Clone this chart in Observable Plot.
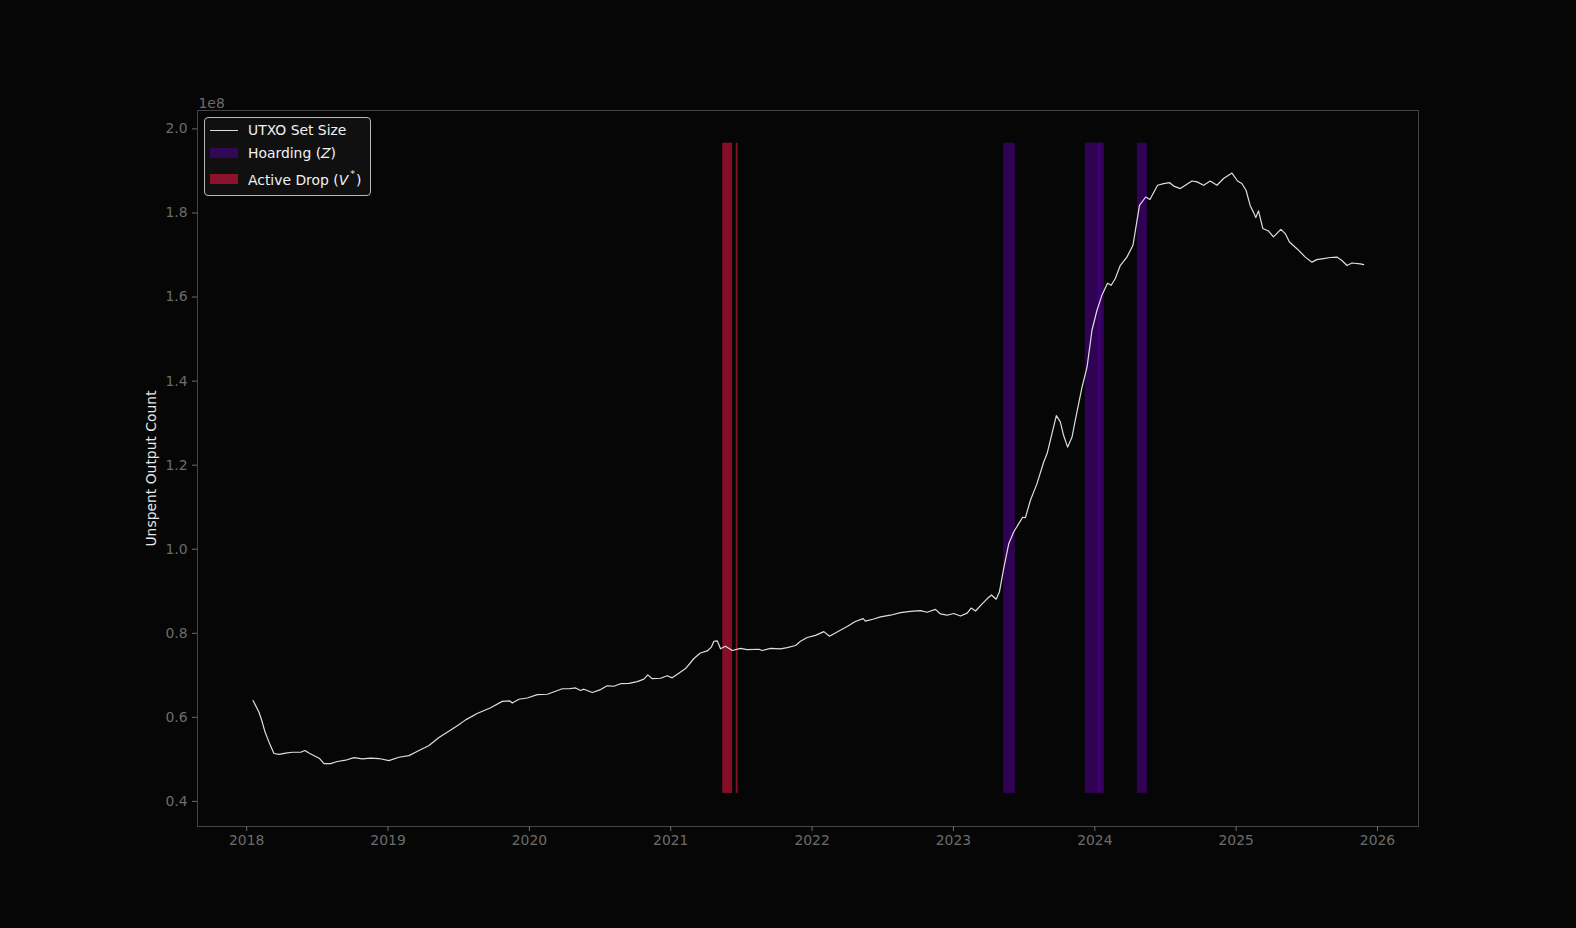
<!DOCTYPE html>
<html>
<head>
<meta charset="utf-8">
<script src="https://cdn.jsdelivr.net/npm/d3@7"></script>
<script src="https://cdn.jsdelivr.net/npm/@observablehq/plot@0.6"></script>
<style>
  html, body { margin: 0; padding: 0; background: #060606; }
  #wrap { position: relative; width: 1576px; height: 928px; }
  #legend {
    position: absolute; left: 204px; top: 117px; width: 165px; height: 77px;
    background: #101010; border: 1px solid #b8b8b8; border-radius: 4px;
    font-family: "DejaVu Sans", sans-serif; font-size: 13.9px; color: #f2f2f2;
  }
  .item { position: absolute; left: 0; height: 20px; display: flex; align-items: center; }
  .sw { position: absolute; left: 5px; width: 28px; }
  .lbl { position: absolute; left: 43px; white-space: nowrap; }
</style>
</head>
<body>
<div id="wrap"></div>
<script>
// UTXO set size (units of 1e8)
const years = [
  2018.045, 2018.087, 2018.106, 2018.130, 2018.158, 2018.193, 2018.229, 2018.276, 2018.323, 2018.382,
  2018.412, 2018.440, 2018.488, 2018.516, 2018.547, 2018.594, 2018.641, 2018.700, 2018.759, 2018.818,
  2018.877, 2018.936, 2019.006, 2019.077, 2019.148, 2019.219, 2019.290, 2019.360, 2019.430, 2019.490,
  2019.549, 2019.630, 2019.726, 2019.808, 2019.862, 2019.879, 2019.926, 2019.985, 2020.056, 2020.127,
  2020.185, 2020.233, 2020.280, 2020.327, 2020.362, 2020.386, 2020.445, 2020.504, 2020.550, 2020.598,
  2020.645, 2020.704, 2020.763, 2020.810, 2020.838, 2020.869, 2020.928, 2020.975, 2021.010, 2021.057,
  2021.105, 2021.164, 2021.210, 2021.258, 2021.287, 2021.305, 2021.329, 2021.352, 2021.387, 2021.435,
  2021.494, 2021.540, 2021.624, 2021.647, 2021.706, 2021.777, 2021.824, 2021.883, 2021.918, 2021.965,
  2022.024, 2022.083, 2022.123, 2022.177, 2022.248, 2022.306, 2022.361, 2022.377, 2022.436, 2022.484,
  2022.554, 2022.625, 2022.696, 2022.767, 2022.814, 2022.873, 2022.908, 2022.955, 2023.002, 2023.050,
  2023.097, 2023.125, 2023.156, 2023.203, 2023.238, 2023.269, 2023.302, 2023.325, 2023.356, 2023.391,
  2023.426, 2023.462, 2023.490, 2023.509, 2023.544, 2023.591, 2023.638, 2023.662, 2023.697, 2023.728,
  2023.756, 2023.779, 2023.808, 2023.839, 2023.862, 2023.910, 2023.945, 2023.980, 2024.015, 2024.050,
  2024.090, 2024.116, 2024.145, 2024.180, 2024.227, 2024.270, 2024.316, 2024.360, 2024.390, 2024.444,
  2024.487, 2024.530, 2024.558, 2024.605, 2024.687, 2024.723, 2024.770, 2024.817, 2024.864, 2024.911,
  2024.946, 2024.970, 2025.010, 2025.040, 2025.070, 2025.099, 2025.122, 2025.139, 2025.158, 2025.189,
  2025.229, 2025.264, 2025.316, 2025.347, 2025.377, 2025.430, 2025.489, 2025.536, 2025.571, 2025.607,
  2025.666, 2025.713, 2025.748, 2025.784, 2025.819, 2025.878, 2025.902
];
const utxo = [
  0.640, 0.612, 0.593, 0.565, 0.541, 0.514, 0.512, 0.515, 0.517, 0.517,
  0.521, 0.515, 0.507, 0.502, 0.490, 0.490, 0.495, 0.498, 0.504, 0.501,
  0.503, 0.502, 0.497, 0.505, 0.509, 0.521, 0.533, 0.552, 0.567, 0.580,
  0.594, 0.609, 0.623, 0.638, 0.639, 0.634, 0.643, 0.646, 0.654, 0.655,
  0.662, 0.668, 0.668, 0.670, 0.664, 0.667, 0.659, 0.666, 0.675, 0.674,
  0.680, 0.681, 0.685, 0.691, 0.701, 0.692, 0.693, 0.699, 0.694, 0.705,
  0.716, 0.740, 0.753, 0.758, 0.767, 0.781, 0.782, 0.763, 0.769, 0.759,
  0.764, 0.761, 0.762, 0.759, 0.764, 0.763, 0.766, 0.771, 0.781, 0.790,
  0.795, 0.804, 0.793, 0.803, 0.816, 0.828, 0.835, 0.829, 0.834, 0.839,
  0.843, 0.849, 0.852, 0.854, 0.850, 0.857, 0.846, 0.843, 0.847, 0.841,
  0.848, 0.860, 0.853, 0.870, 0.882, 0.891, 0.881, 0.898, 0.955, 1.013,
  1.041, 1.061, 1.076, 1.075, 1.116, 1.156, 1.207, 1.227, 1.275, 1.318,
  1.303, 1.271, 1.243, 1.267, 1.307, 1.386, 1.433, 1.521, 1.568, 1.604,
  1.633, 1.628, 1.644, 1.675, 1.695, 1.723, 1.818, 1.838, 1.832, 1.866,
  1.870, 1.872, 1.864, 1.858, 1.876, 1.874, 1.866, 1.876, 1.866, 1.882,
  1.890, 1.895, 1.876, 1.870, 1.854, 1.818, 1.802, 1.789, 1.805, 1.763,
  1.757, 1.743, 1.761, 1.751, 1.731, 1.715, 1.695, 1.683, 1.689, 1.691,
  1.694, 1.695, 1.687, 1.675, 1.681, 1.679, 1.677
];

// Regime spans (decimal years)
const hoardStart = [2023.356, 2023.933, 2024.025, 2024.301];
const hoardEnd   = [2023.438, 2024.046, 2024.068, 2024.372];
const dropStart  = [2021.368, 2021.463];
const dropEnd    = [2021.437, 2021.477];
const spanLow = 0.419, spanHigh = 1.966;

const xTicks = [2018, 2019, 2020, 2021, 2022, 2023, 2024, 2025, 2026];
const yTicks = [0.4, 0.6, 0.8, 1.0, 1.2, 1.4, 1.6, 1.8, 2.0];

const seriesLabel = "UTXO Set Size";
const yLabel = "Unspent Output Count";
const scaleLabel = "1e8";

const line = years.map((x, i) => ({x, y: utxo[i]}));
const hoard = hoardStart.map((s, i) => ({x1: s, x2: hoardEnd[i]}));
const drop = dropStart.map((s, i) => ({x1: s, x2: dropEnd[i]}));

const purple = "#4B0082", red = "#DC143C";
const grey = "#6c6c6c";

const chart = Plot.plot({
  width: 1576, height: 928,
  marginLeft: 197, marginRight: 158, marginTop: 110, marginBottom: 102,
  x: {domain: [2017.652, 2026.29], label: null},
  y: {domain: [0.3403, 2.0438], label: null},
  style: {background: "#060606", color: grey, fontFamily: "DejaVu Sans", fontSize: "13.9px"},
  marks: [
    Plot.rect(hoard, {x1: "x1", x2: "x2", y1: spanLow, y2: spanHigh, fill: purple, fillOpacity: 0.62}),
    Plot.rect(drop, {x1: "x1", x2: "x2", y1: spanLow, y2: spanHigh, fill: red, fillOpacity: 0.6}),
    Plot.line(line, {x: "x", y: "y", stroke: "#dedede", strokeWidth: 1.2}),
    Plot.frame({stroke: "#464646", strokeWidth: 1}),
    Plot.axisX({ticks: xTicks, tickFormat: d => String(d), tickSize: 5, tickPadding: 4, label: null}),
    Plot.axisY({ticks: yTicks, tickFormat: d3.format(".1f"), tickSize: 5, tickPadding: 5, label: null}),
    Plot.text([yLabel], {frameAnchor: "left", textAnchor: "middle", dx: -46, rotate: -90, fill: "#e8e8e8", fontSize: 13.9}),
    Plot.text([scaleLabel], {frameAnchor: "top-left", dx: 1, dy: -12, textAnchor: "start", fill: grey, fontSize: 13.9})
  ]
});

const wrap = document.getElementById("wrap");
wrap.appendChild(chart);

// Legend
const legend = document.createElement("div");
legend.id = "legend";
const items = [
  {type: "line", html: seriesLabel, top: 3},
  {type: "rect", color: purple, op: 0.62, html: "Hoarding (<i>Z</i>)", top: 26},
  {type: "rect", color: red, op: 0.6, html: "Active Drop (<i>V</i><sup style='font-size:9.5px;position:relative;top:-2px;padding-left:2px;padding-right:1px'>*</sup>)", top: 51}
];
items.forEach(it => {
  const row = document.createElement("div");
  row.className = "item";
  row.style.top = it.top + "px";
  row.style.width = "100%";
  const sw = document.createElement("div");
  sw.className = "sw";
  if (it.type === "line") {
    sw.style.top = "9px"; sw.style.height = "1.3px"; sw.style.background = "#dedede";
  } else {
    sw.style.top = it.top === 51 ? "5px" : "4px"; sw.style.height = "10px"; sw.style.background = it.color; sw.style.opacity = it.op;
  }
  const lbl = document.createElement("div");
  lbl.className = "lbl";
  lbl.style.top = "1px";
  lbl.innerHTML = it.html;
  row.appendChild(sw); row.appendChild(lbl);
  legend.appendChild(row);
});
wrap.appendChild(legend);
</script>
</body>
</html>
